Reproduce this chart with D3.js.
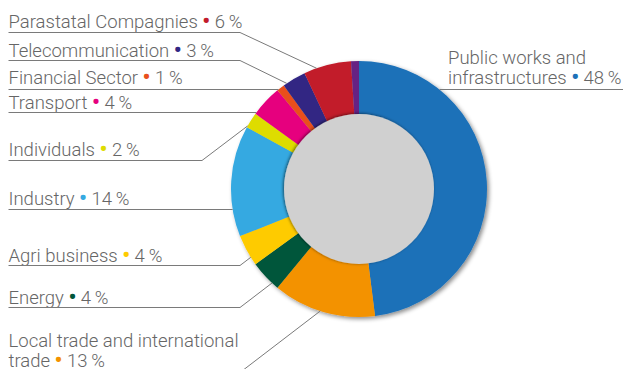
<!DOCTYPE html>
<html><head><meta charset="utf-8">
<script src="https://cdn.jsdelivr.net/npm/d3@7"></script>
<style>html,body{margin:0;padding:0;background:#fff}svg{display:block}</style>
</head><body>
<svg id="c" width="623" height="369"></svg>
<script>
// ---- data ----
const sectors = ["Public works and infrastructures","Local trade and international trade","Energy","Agri business","Industry","Individuals","Transport","Financial Sector","Telecommunication","Parastatal Compagnies","Other"];
const shares  = [48,13,4,4,14,2,4,1,3,6,1];
const colors  = ["#1d71b8","#f39200","#00573a","#fecb00","#36a9e1","#dedc00","#e6007e","#e9501c","#312783","#c21b2b","#662483"];
const labelLines = [["Public works and","infrastructures"],["Local trade and international","trade"],["Energy"],["Agri business"],["Industry"],["Individuals"],["Transport"],["Financial Sector"],["Telecommunication"],["Parastatal Compagnies"],null];

// ---- layout ----
const W=623,H=369, cx=359, cy=189, R=128, r=75;
const layout = [
  {x:448, y:63.5, uy:89.5, side:"right", t:null},
  {x:8.5, y:346.5, uy:372.5, ex:240, t:0.53},
  {x:8.5, y:303.5, uy:307.5, ex:240, t:0.22},
  {x:8.5, y:261.5, uy:265.5, ex:240, t:0.26},
  {x:8.5, y:205, uy:209.5, t:null},
  {x:8.5, y:155.5, uy:160.5, ex:202, t:0.1},
  {x:8.5, y:108.5, uy:112.5, t:null},
  {x:8.5, y:84, uy:89.5, t:null},
  {x:8.5, y:56.5, uy:60.5, ex:240, t:0.15},
  {x:8.5, y:27.5, uy:32.5, ex:240, t:0.27},
  null
];

const svg=d3.select("#c");
const defs=svg.append("defs");
const f1=defs.append("filter").attr("id","ds").attr("x","-20%").attr("y","-20%").attr("width","140%").attr("height","140%");
f1.append("feDropShadow").attr("dx",2).attr("dy",2).attr("stdDeviation",2).attr("flood-color","#000").attr("flood-opacity",0.45);
const f2=defs.append("filter").attr("id","ds2").attr("x","-20%").attr("y","-20%").attr("width","140%").attr("height","140%");
f2.append("feDropShadow").attr("dx",-1).attr("dy",-0.5).attr("stdDeviation",1.6).attr("flood-color","#000").attr("flood-opacity",0.55);

const pie=d3.pie().sort(null).value(d=>d)(shares);
const arc=d3.arc().innerRadius(r-2).outerRadius(R);

const g=svg.append("g").attr("transform",`translate(${cx},${cy})`);
g.append("g").attr("filter","url(#ds)").selectAll("path").data(pie).join("path")
  .attr("d",arc).attr("fill",(d,i)=>colors[i]);
g.append("circle").attr("r",r).attr("fill","#d0d0d0").attr("filter","url(#ds2)");

// ---- labels ----
const txtColor="#666666", lineColor="#7a7a7a";
const lg=svg.append("g");
pie.forEach((p,i)=>{
  const L=layout[i]; if(!L) return;
  const lines=labelLines[i];
  lines.forEach((ln,k)=>{
    const t=lg.append("text").attr("font-family","Roboto, 'Liberation Sans', sans-serif")
      .attr("font-weight",300).attr("font-size",18.5).attr("fill",txtColor)
      .attr("x",L.x).attr("y",L.y+k*20);
    t.append("tspan").text(ln);
    if(k===lines.length-1){
      t.append("tspan").text(" ");
      t.append("tspan").attr("fill",colors[i]).attr("font-weight",700).attr("font-size",22).text("\u2022");
      t.append("tspan").text(" "+shares[i]+"\u2009%");
    }
  });
  let pts;
  if(L.t===null){
    const dy=L.uy-cy;
    const dx=Math.sqrt(Math.max(0,R*R-dy*dy));
    if(L.side==="right") pts=[[W,L.uy],[cx+dx,L.uy]];
    else pts=[[L.x,L.uy],[cx-dx,L.uy]];
  } else {
    const a=p.startAngle+(p.endAngle-p.startAngle)*L.t;
    const ax=cx+R*Math.sin(a), ay=cy-R*Math.cos(a);
    pts=[[L.x,L.uy],[L.ex,L.uy],[ax,ay]];
  }
  lg.append("path").attr("d",d3.line()(pts)).attr("fill","none")
    .attr("stroke",lineColor).attr("stroke-width",1);
});
</script>
</body></html>
